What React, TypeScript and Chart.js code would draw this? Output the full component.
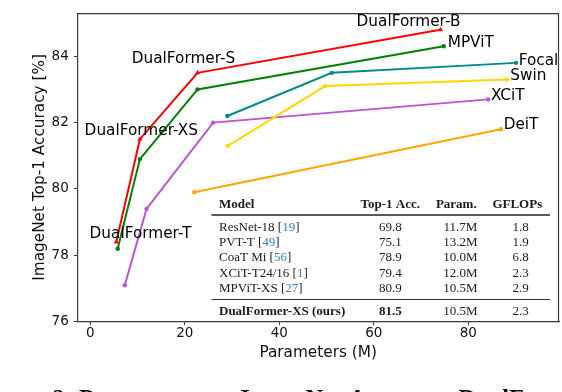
import React, { useEffect, useRef } from "react";
import { Chart, registerables } from "chart.js";

Chart.register(...registerables);

// ---- data ----
const dualFormerParams = [5.5, 10.5, 22.7, 74.1];
const dualFormerAcc = [78.4, 81.5, 83.5, 84.8];
const mpvitParams = [5.8, 10.5, 22.7, 74.8];
const mpvitAcc = [78.2, 80.9, 83.0, 84.3];
const focalParams = [29.0, 51.1, 90.1];
const focalAcc = [82.2, 83.5, 83.8];
const swinParams = [29.1, 49.7, 88.2];
const swinAcc = [81.3, 83.1, 83.3];
const xcitParams = [7.3, 11.9, 26.0, 84.2];
const xcitAcc = [77.1, 79.4, 82.0, 82.7];
const deitParams = [22.0, 86.9];
const deitAcc = [79.9, 81.8];

const xTickValues = [0, 20, 40, 60, 80];
const yTickValues = [76, 78, 80, 82, 84];

const xTitle = "Parameters (M)";
const yTitle = "ImageNet Top-1 Accuracy [%]";

// text annotations (anchor in data units)
const annText = ["DualFormer-B", "MPViT", "Focal", "Swin", "XCiT", "DeiT", "DualFormer-S", "DualFormer-XS", "DualFormer-T"];
const annX = [67.34, 75.64, 90.67, 88.89, 84.8, 87.49, 19.72, 10.79, 10.62];
const annY = [85.04, 84.41, 83.85, 83.41, 82.8, 81.92, 83.93, 81.75, 78.64];
const annAlign = ["center", "left", "left", "left", "left", "left", "center", "center", "center"];

// inset table
const tableHeader = ["Model", "Top-1 Acc.", "Param.", "GFLOPs"];
const tableModels = ["ResNet-18", "PVT-T", "CoaT Mi", "XCiT-T24/16", "MPViT-XS"];
const tableRefs = ["19", "49", "56", "1", "27"];
const tableAcc = ["69.8", "75.1", "78.9", "79.4", "80.9"];
const tableParams = ["11.7M", "13.2M", "10.0M", "12.0M", "10.5M"];
const tableFlops = ["1.8", "1.9", "6.8", "2.3", "2.9"];
const oursRow = ["DualFormer-XS (ours)", "81.5", "10.5M", "2.3"];

const caption = "Figure 2: Parameters vs. ImageNet Accuracy. DualFormer achieves";

const series = [
  { label: "DualFormer", xs: dualFormerParams, ys: dualFormerAcc, color: "#ff0000", style: "triangle", r: 3 },
  { label: "MPViT", xs: mpvitParams, ys: mpvitAcc, color: "#008000", style: "circle", r: 2.2 },
  { label: "Focal", xs: focalParams, ys: focalAcc, color: "#008b8b", style: "circle", r: 2.2 },
  { label: "Swin", xs: swinParams, ys: swinAcc, color: "#ffd700", style: "circle", r: 2.2 },
  { label: "XCiT", xs: xcitParams, ys: xcitAcc, color: "#ba55d3", style: "circle", r: 2.2 },
  { label: "DeiT", xs: deitParams, ys: deitAcc, color: "#ffa500", style: "circle", r: 2.2 },
];

const SANS = "'DejaVu Sans'";
const SERIF = "'Liberation Serif'";
const AXIS = "#3a3a3a";

export default function App() {
  const ref = useRef<HTMLCanvasElement | null>(null);

  useEffect(() => {
    const canvas = ref.current;
    if (!canvas) return;

    const framePlugin = {
      id: "frame",
      afterDatasetsDraw(chart: any) {
        const { ctx, chartArea } = chart;
        ctx.save();
        ctx.strokeStyle = AXIS;
        ctx.lineWidth = 1.2;
        ctx.beginPath();
        ctx.moveTo(chartArea.left, chartArea.top + 0.5);
        ctx.lineTo(chartArea.right - 0.5, chartArea.top + 0.5);
        ctx.lineTo(chartArea.right - 0.5, chartArea.bottom);
        ctx.stroke();
        ctx.restore();
      },
    };

    const labelPlugin = {
      id: "labels",
      afterDatasetsDraw(chart: any) {
        const { ctx, scales } = chart;
        ctx.save();
        ctx.font = `15.3px ${SANS}`;
        ctx.fillStyle = "#000";
        ctx.textBaseline = "middle";
        annText.forEach((t, i) => {
          ctx.textAlign = annAlign[i];
          ctx.fillText(t, scales.x.getPixelForValue(annX[i]), scales.y.getPixelForValue(annY[i]));
        });
        ctx.restore();
      },
    };

    const tablePlugin = {
      id: "table",
      afterDatasetsDraw(chart: any) {
        const { ctx } = chart;
        const left = 211.5, right = 550, textLeft = 219;
        const cAcc = 390.3, cParHead = 456.3, cParVal = 460.5, cFlHead = 517.3, cFlVal = 520.5;
        const headBase = 207.5;
        const rowBase = [230.8, 246, 261.2, 276.6, 291.8];
        const oursBase = 315.2;
        ctx.save();
        ctx.fillStyle = "#fff";
        ctx.fillRect(left - 2, 194, right - left + 4, 126);
        ctx.fillStyle = "#1a1a1a";
        ctx.textBaseline = "alphabetic";
        // header
        ctx.font = `bold 13px ${SERIF}`;
        ctx.textAlign = "left";
        ctx.fillText(tableHeader[0], textLeft, headBase);
        ctx.textAlign = "center";
        ctx.fillText(tableHeader[1], cAcc, headBase);
        ctx.fillText(tableHeader[2], cParHead, headBase);
        ctx.fillText(tableHeader[3], cFlHead, headBase);
        // rules
        ctx.fillStyle = "#5a5a5a";
        ctx.fillRect(left, 214, right - left, 2);
        ctx.fillStyle = "#333";
        ctx.fillRect(left, 299, right - left, 1);
        // rows
        ctx.font = `13px ${SERIF}`;
        tableModels.forEach((m, i) => {
          const y = rowBase[i];
          ctx.textAlign = "left";
          ctx.fillStyle = "#1a1a1a";
          const a = `${m} [`;
          ctx.fillText(a, textLeft, y);
          let x = textLeft + ctx.measureText(a).width;
          ctx.fillStyle = "#2f80c4";
          ctx.fillText(tableRefs[i], x, y);
          x += ctx.measureText(tableRefs[i]).width;
          ctx.fillStyle = "#1a1a1a";
          ctx.fillText("]", x, y);
          ctx.textAlign = "center";
          ctx.fillText(tableAcc[i], cAcc, y);
          ctx.fillText(tableParams[i], cParVal, y);
          ctx.fillText(tableFlops[i], cFlVal, y);
        });
        // ours
        ctx.fillStyle = "#1a1a1a";
        ctx.font = `bold 13px ${SERIF}`;
        ctx.textAlign = "left";
        ctx.fillText(oursRow[0], textLeft, oursBase);
        ctx.textAlign = "center";
        ctx.fillText(oursRow[1], cAcc, oursBase);
        ctx.font = `13px ${SERIF}`;
        ctx.fillText(oursRow[2], cParVal, oursBase);
        ctx.fillText(oursRow[3], cFlVal, oursBase);
        ctx.restore();
      },
    };

    const captionPlugin = {
      id: "caption",
      afterDraw(chart: any) {
        const { ctx } = chart;
        ctx.save();
        ctx.font = `bold 24.5px ${SERIF}`;
        ctx.fillStyle = "#111";
        ctx.textAlign = "left";
        ctx.textBaseline = "alphabetic";
        const w = ctx.measureText("Figure 2: ").width;
        ctx.fillText(caption, 79 - w, 406.5);
        ctx.restore();
      },
    };

    const chart = new Chart(canvas, {
      type: "scatter",
      data: {
        datasets: series.map((s) => ({
          label: s.label,
          data: s.xs.map((x, i) => ({ x, y: s.ys[i] })),
          showLine: true,
          borderColor: s.color,
          backgroundColor: s.color,
          borderWidth: 2,
          pointStyle: s.style as any,
          pointRadius: s.r,
          pointBorderWidth: 0,
          pointHoverRadius: s.r,
          tension: 0,
          clip: false as any,
        })),
      },
      options: {
        animation: false,
        responsive: false,
        maintainAspectRatio: false,
        events: [],
        layout: { padding: { top: 2, right: 2.5, left: 0, bottom: 0 } },
        plugins: { legend: { display: false }, tooltip: { enabled: false } },
        scales: {
          x: {
            type: "linear",
            min: -2.75,
            max: 99.2,
            afterBuildTicks: (s: any) => {
              s.ticks = xTickValues.map((v) => ({ value: v }));
            },
            afterFit: (s: any) => {
              s.height = 70.3;
            },
            grid: { drawOnChartArea: false, drawTicks: true, tickLength: 3.5, color: AXIS, lineWidth: 1 },
            border: { color: AXIS, width: 1.2 },
            ticks: { padding: 0, color: "#111", font: { family: "DejaVu Sans", size: 13.5 }, maxRotation: 0 },
            title: {
              display: true,
              text: xTitle,
              color: "#111",
              font: { family: "DejaVu Sans", size: 15.3 },
              padding: { top: 0, bottom: 30 },
            },
          },
          y: {
            type: "linear",
            min: 76,
            max: 85.3,
            afterBuildTicks: (s: any) => {
              s.ticks = yTickValues.map((v) => ({ value: v }));
            },
            afterFit: (s: any) => {
              s.width = 77.3;
            },
            grid: { drawOnChartArea: false, drawTicks: true, tickLength: 3.5, color: AXIS, lineWidth: 1 },
            border: { color: AXIS, width: 1.2 },
            ticks: { padding: 5, color: "#111", font: { family: "DejaVu Sans", size: 13.5 } },
            title: {
              display: true,
              text: yTitle,
              color: "#111",
              font: { family: "DejaVu Sans", size: 15.3 },
              padding: { top: 30.8, bottom: 0 },
            },
          },
        },
      },
      plugins: [framePlugin, labelPlugin, tablePlugin, captionPlugin],
    });

    return () => chart.destroy();
  }, []);

  return (
    <div style={{ position: "fixed", left: 0, top: 0, width: 562, height: 392, background: "#fff" }}>
      <canvas ref={ref} width={562} height={392} style={{ display: "block", width: 562, height: 392 }} />
    </div>
  );
}
